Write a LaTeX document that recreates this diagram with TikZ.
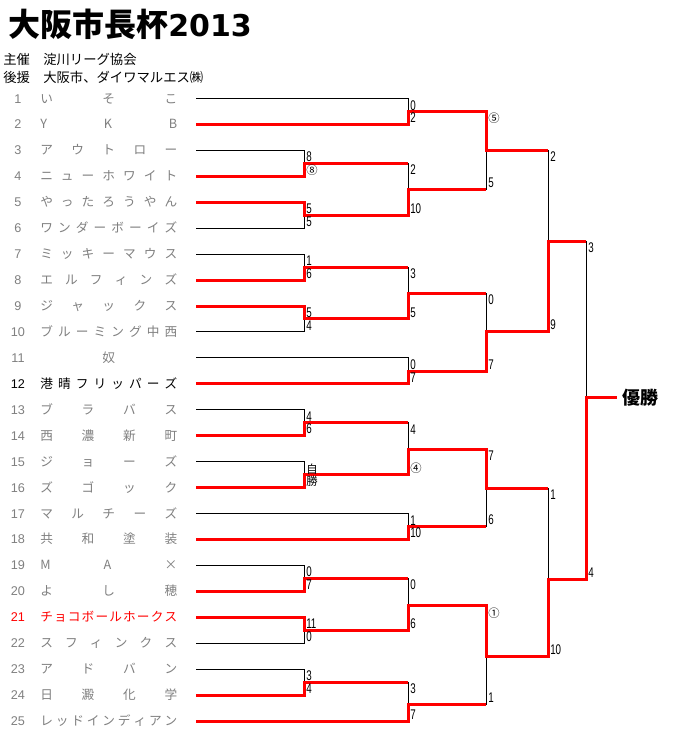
\documentclass[tikz,border=0pt]{standalone}
\usepackage{fontspec}
\setmainfont{Liberation Sans}
\newfontfamily\jp{Noto Sans CJK JP}
\newfontfamily\numfont[FakeStretch=0.7]{Liberation Sans}
\newfontfamily\titledigits{DejaVu Sans}
\pgfdeclarelayer{back}
\pgfdeclarelayer{bg}
\pgfsetlayers{back,bg,main}
\definecolor{namegray}{HTML}{808080}
\tikzset{
  thinline/.style={draw=black, line width=0.75pt},
  redline/.style={draw=red, line width=2.25pt, line join=miter},
  score/.style={font=\numfont\fontsize{10.5}{10.5}\selectfont, inner sep=0pt, anchor=base west},
  cjkscore/.style={font=\jp\fontsize{8.5}{8.5}\selectfont, inner sep=0pt, anchor=base west},
  teamname/.style={font=\jp\fontsize{9.5}{9.5}\selectfont, text=namegray, inner sep=0pt, anchor=base west},
  teamnum/.style={font=\fontsize{9.5}{9.5}\selectfont, text=namegray, inner sep=0pt, anchor=base},
}
% match: 1 name, 2 x vertical, 3 ytop, 4 ybot, 5 ymid, 6 xstart top, 7 xstart bot, 8 xnext, 9 winner (t/b)
\newcommand\bmatch[9]{%
  \coordinate (#1t) at (#6,#3);
  \coordinate (#1b) at (#7,#4);
  \coordinate (#1vt) at (#2,#3);
  \coordinate (#1vb) at (#2,#4);
  \coordinate (#1m) at (#2,#5);
  \coordinate (#1o) at (#8,#5);
  \begin{pgfonlayer}{bg}
    \draw[thinline] (#1t) -- (#1vt) -- (#1vb) -- (#1b);
  \end{pgfonlayer}
  \if t#9
    \draw[redline] (#1t) -- (#1vt) -- (#1m) -- (#1o);
  \else
    \draw[redline] (#1b) -- (#1vb) -- (#1m) -- (#1o);
  \fi
}
% scores: 1 name, 2 style top, 3 top text, 4 style bottom, 5 bottom text
\newcommand\bscores[5]{%
  \node[#2] (#1st) at ([shift={(2,11.5)}]#1vt) {#3};
  \node[#4] (#1sb) at ([shift={(2,-1.8)}]#1vb) {#5};
}
\newcommand\team[4]{% 1 index, 2 y, 3 color, 4 name
  \node[teamnum, text=#3] (n#1) at (18,#2+4.5) {#1};
  \node[teamname, text=#3] (t#1) at (40,#2+4.5) {\makebox[102.75pt][s]{#4}};
}
\begin{document}
\begin{tikzpicture}[x=0.75pt,y=-0.75pt]
\begin{pgfonlayer}{back}
\fill[white] (0,0) rectangle (672,739);
\end{pgfonlayer}
\useasboundingbox (0,0) rectangle (672,739);

% title and header
\node[inner sep=0pt, anchor=base west] (title) at (8,36)
  {{\jp\bfseries\fontsize{24}{24}\selectfont 大阪市長杯}{\titledigits\bfseries\fontsize{22.5}{22.5}\selectfont 2013}};
\node[inner sep=0pt, anchor=base west, font=\jp\fontsize{10}{10}\selectfont] (host) at (3,64)
  {\makebox[30pt][l]{主催}淀川リーグ協会};
\node[inner sep=0pt, anchor=base west, font=\jp\fontsize{10}{10}\selectfont] (support) at (3,82)
  {\makebox[30pt][l]{後援}大阪市、ダイワマルエス㈱};

% teams
\team{1}{98.5}{namegray}{い\hfill そ\hfill こ}
\team{2}{124.44}{namegray}{Y\hfill K\hfill B}
\team{3}{150.38}{namegray}{ア\hfill ウ\hfill ト\hfill ロ\hfill ー}
\team{4}{176.32}{namegray}{ニ\hfill ュ\hfill ー\hfill ホ\hfill ワ\hfill イ\hfill ト}
\team{5}{202.26}{namegray}{や\hfill っ\hfill た\hfill ろ\hfill う\hfill や\hfill ん}
\team{6}{228.2}{namegray}{ワ\hfill ン\hfill ダ\hfill ー\hfill ボ\hfill ー\hfill イ\hfill ズ}
\team{7}{254.14}{namegray}{ミ\hfill ッ\hfill キ\hfill ー\hfill マ\hfill ウ\hfill ス}
\team{8}{280.08}{namegray}{エ\hfill ル\hfill フ\hfill ィ\hfill ン\hfill ズ}
\team{9}{306.02}{namegray}{ジ\hfill ャ\hfill ッ\hfill ク\hfill ス}
\team{10}{331.96}{namegray}{ブ\hfill ル\hfill ー\hfill ミ\hfill ン\hfill グ\hfill 中\hfill 西}
\team{11}{357.9}{namegray}{\hfill 奴\hfill}
\team{12}{383.84}{black}{港\hfill 晴\hfill フ\hfill リ\hfill ッ\hfill パ\hfill ー\hfill ズ}
\team{13}{409.78}{namegray}{ブ\hfill ラ\hfill バ\hfill ス}
\team{14}{435.72}{namegray}{西\hfill 濃\hfill 新\hfill 町}
\team{15}{461.66}{namegray}{ジ\hfill ョ\hfill ー\hfill ズ}
\team{16}{487.6}{namegray}{ズ\hfill ゴ\hfill ッ\hfill ク}
\team{17}{513.54}{namegray}{マ\hfill ル\hfill チ\hfill ー\hfill ズ}
\team{18}{539.48}{namegray}{共\hfill 和\hfill 塗\hfill 装}
\team{19}{565.42}{namegray}{M\hfill A\hfill ×}
\team{20}{591.36}{namegray}{よ\hfill し\hfill 穂}
\team{21}{617.3}{red}{チ\hfill ョ\hfill コ\hfill ボ\hfill ー\hfill ル\hfill ホ\hfill ー\hfill ク\hfill ス}
\team{22}{643.24}{namegray}{ス\hfill フ\hfill ィ\hfill ン\hfill ク\hfill ス}
\team{23}{669.18}{namegray}{ア\hfill ド\hfill バ\hfill ン}
\team{24}{695.12}{namegray}{日\hfill 澱\hfill 化\hfill 学}
\team{25}{721.06}{namegray}{レ\hfill ッ\hfill ド\hfill イ\hfill ン\hfill デ\hfill ィ\hfill ア\hfill ン}

% round 1 (x = 304)
\bmatch{A}{304}{150.38}{176.32}{163.35}{196}{196}{408}{b}
\bmatch{B}{304}{202.26}{228.2}{215.23}{196}{196}{408}{t}
\bmatch{C}{304}{254.14}{280.08}{267.11}{196}{196}{408}{b}
\bmatch{D}{304}{306.02}{331.96}{318.99}{196}{196}{408}{t}
\bmatch{E}{304}{409.78}{435.72}{422.75}{196}{196}{408}{b}
\bmatch{F}{304}{461.66}{487.6}{474.63}{196}{196}{408}{b}
\bmatch{G}{304}{565.42}{591.36}{578.39}{196}{196}{408}{b}
\bmatch{H}{304}{617.3}{643.24}{630.27}{196}{196}{408}{t}
\bmatch{I}{304}{669.18}{695.12}{682.15}{196}{196}{408}{b}

% round 2 (x = 408)
\bmatch{J}{408}{98.5}{124.44}{111}{196}{196}{486}{b}
\bmatch{K}{408}{163.35}{215.23}{189}{304}{304}{486}{b}
\bmatch{L}{408}{267.11}{318.99}{293.3}{304}{304}{486}{b}
\bmatch{M}{408}{357.9}{383.84}{371}{196}{196}{486}{b}
\bmatch{N}{408}{422.75}{474.63}{449.3}{304}{304}{486}{b}
\bmatch{O}{408}{513.54}{539.48}{526.6}{196}{196}{486}{b}
\bmatch{P}{408}{578.39}{630.27}{605.7}{304}{304}{486}{b}
\bmatch{Q}{408}{682.15}{721.06}{704.3}{304}{196}{486}{b}

% round 3 (x = 486)
\bmatch{R}{486}{111}{189}{150}{408}{408}{548}{t}
\bmatch{S}{486}{293.3}{371}{331.7}{408}{408}{548}{b}
\bmatch{T}{486}{449.3}{526.6}{488}{408}{408}{548}{t}
\bmatch{U}{486}{605.7}{704.3}{656.7}{408}{408}{548}{t}

% round 4 (x = 548)
\bmatch{V}{548}{150}{331.7}{241}{486}{486}{586}{b}
\bmatch{W}{548}{488}{656.7}{579.3}{486}{486}{586}{b}

% final (x = 586)
\bmatch{X}{586}{241}{579.3}{397.3}{548}{548}{617}{b}

% scores
\bscores{A}{score}{8}{cjkscore}{⑧}
\bscores{B}{score}{5}{score}{5}
\bscores{C}{score}{1}{score}{6}
\bscores{D}{score}{5}{score}{4}
\bscores{E}{score}{4}{score}{6}
\bscores{F}{cjkscore}{自}{cjkscore}{勝}
\bscores{G}{score}{0}{score}{7}
\bscores{H}{score}{11}{score}{0}
\bscores{I}{score}{3}{score}{4}
\bscores{J}{score}{0}{score}{2}
\bscores{K}{score}{2}{score}{10}
\bscores{L}{score}{3}{score}{5}
\bscores{M}{score}{0}{score}{7}
\bscores{N}{score}{4}{cjkscore}{④}
\bscores{O}{score}{1}{score}{10}
\bscores{P}{score}{0}{score}{6}
\bscores{Q}{score}{3}{score}{7}
\bscores{R}{cjkscore}{⑤}{score}{5}
\bscores{S}{score}{0}{score}{7}
\bscores{T}{score}{7}{score}{6}
\bscores{U}{cjkscore}{①}{score}{1}
\bscores{V}{score}{2}{score}{9}
\bscores{W}{score}{1}{score}{10}
\bscores{X}{score}{3}{score}{4}

% champion
\node[inner sep=0pt, anchor=west, font=\jp\bfseries\fontsize{13.5}{13.5}\selectfont] (champ) at (622,398) {優勝};
\end{tikzpicture}
\end{document}
